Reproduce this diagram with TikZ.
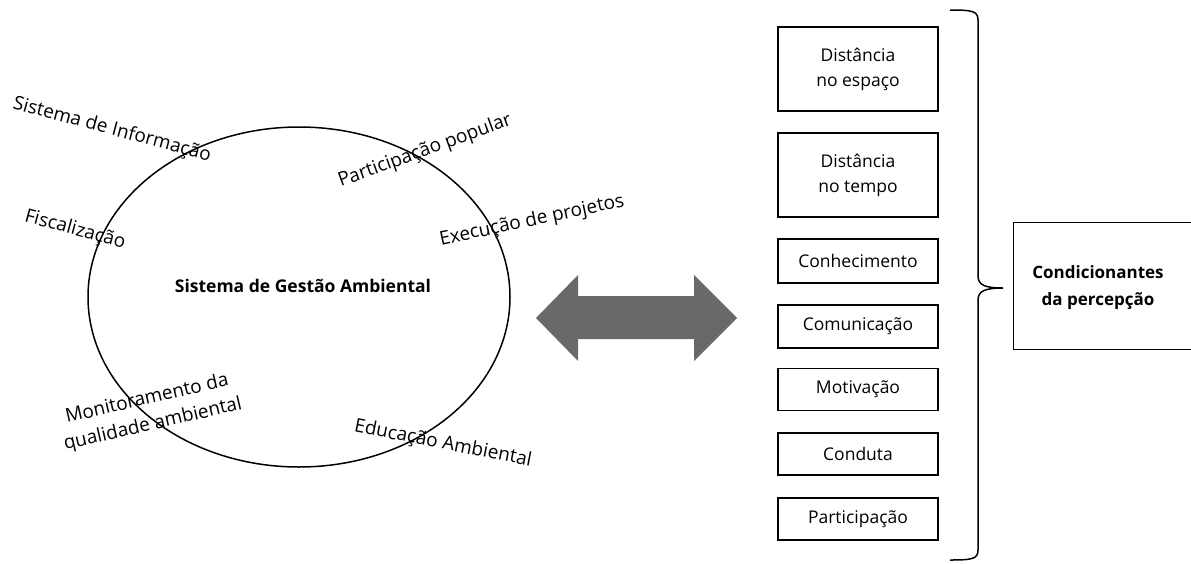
\documentclass[tikz,border=0pt]{standalone}
\usepackage{fontspec}
\setmainfont{Open Sans}
\usetikzlibrary{shapes.geometric}
\begin{document}
\begin{tikzpicture}[x=1pt,y=-1pt,
  lbl/.style={font=\fontsize{19}{26}\selectfont, inner sep=0pt, align=center},
  fbox/.style={draw, line width=1.3pt, minimum width=160pt, font=\fontsize{17.5}{25}\selectfont, align=center, inner sep=0pt},
  ]
\useasboundingbox (0,0) rectangle (1191,563);
\node[draw, line width=1.5pt, ellipse, minimum width=422pt, minimum height=340pt] (ell) at (299,297) {};
\node[lbl, font=\bfseries\fontsize{17.5}{20}\selectfont] (sga) at (303,286) {Sistema de Gestão Ambiental};
\node[lbl, rotate=-15] (si) at (112,130) {Sistema de Informação};
\node[lbl, rotate=-15] (fi) at (75,230) {Fiscalização};
\node[lbl, rotate=20] (pp) at (425,151) {Participação popular};
\node[lbl, rotate=12] (ep) at (532,221) {Execução de projetos};
\node[lbl, rotate=13] (mq) at (150,412) {Monitoramento da\\qualidade ambiental};
\node[lbl, rotate=-11] (ea) at (443,444) {Educação Ambiental};
% double arrow
\fill[fill=black!59] (536,318) -- (578,275) -- (578,296) -- (694,296) -- (694,275) -- (737,318) -- (694,361) -- (694,339) -- (578,339) -- (578,361) -- cycle;
% boxes
\node[fbox, minimum height=84pt] (b1) at (858,69) {Distância\\no espaço};
\node[fbox, minimum height=84pt] (b2) at (858,175) {Distância\\no tempo};
\node[fbox, minimum height=44pt] (b3) at (858,261) {Conhecimento};
\node[fbox, minimum height=43pt] (b4) at (858,326.5) {Comunicação};
\node[fbox, minimum height=42pt] (b5) at (858,389.5) {Motivação};
\node[fbox, minimum height=42pt] (b6) at (858,454) {Conduta};
\node[fbox, minimum height=42pt] (b7) at (858,519) {Participação};
% brace
\coordinate (bt) at (950,10);
\coordinate (bb) at (950,560);
\coordinate (btip) at (1003,288);
\draw[line width=1.5pt] (bt) .. controls (972,10) and (978,11) .. (978,20) -- (978,276) .. controls (978,285) and (985,288) .. (btip)
  (btip) .. controls (985,288) and (978,291) .. (978,300) -- (978,550) .. controls (978,559) and (972,560) .. (bb);
\node[draw, line width=1.3pt, minimum width=180pt, minimum height=127pt, anchor=north west, inner sep=0pt] (cp) at (1013,222) {};
\node[font=\bfseries\fontsize{17}{27}\selectfont, align=center, inner sep=0pt] (cpt) at (1098,288) {Condicionantes\\da percepção};
\end{tikzpicture}
\end{document}
